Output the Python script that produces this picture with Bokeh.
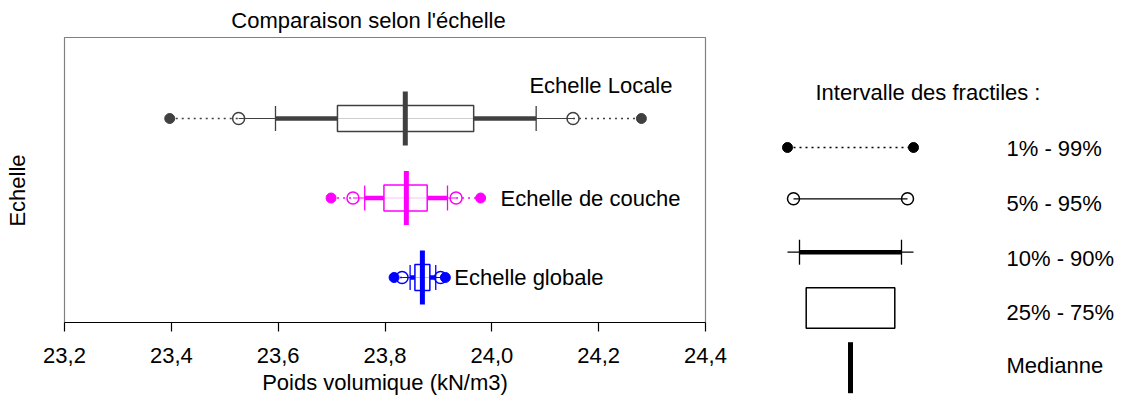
import math
from bokeh.plotting import figure
from bokeh.models import Range1d, FixedTicker, CustomJSTickFormatter, LinearAxis, ColumnDataSource
from bokeh.core.properties import value
from bokeh.embed import file_html
from bokeh.resources import INLINE

# ---------------- data ----------------
cats = ["Echelle Locale", "Echelle de couche", "Echelle globale"]
p01 = [23.397, 23.699, 23.817]
p05 = [23.526, 23.740, 23.832]
p10 = [23.595, 23.762, 23.847]
p25 = [23.711, 23.798, 23.856]
p50 = [23.838, 23.840, 23.870]
p75 = [23.966, 23.879, 23.884]
p90 = [24.083, 23.917, 23.895]
p95 = [24.152, 23.933, 23.904]
p99 = [24.280, 23.979, 23.913]
x_ticks = [23.2, 23.4, 23.6, 23.8, 24.0, 24.2, 24.4]
title_text = "Comparaison selon l'échelle"
x_label = "Poids volumique (kN/m3)"
y_label = "Echelle"
legend_title = "Intervalle des fractiles :"
legend_labels = ["1% - 99%", "5% - 95%", "10% - 90%", "25% - 75%", "Medianne"]

# ---------------- layout / style ----------------
FONT = "Liberation Sans"
FS = "22px"
W, H = 1122, 405
# plot box in canvas pixels
BOX_L, BOX_R, BOX_T, BOX_B = 64, 705, 37, 322
Y_LO, Y_HI = 0.434, 4.019          # value range of the plot box (rows at 1..3)
xs = (BOX_R - BOX_L) / (x_ticks[-1] - x_ticks[0])
ys = (BOX_B - BOX_T) / (Y_HI - Y_LO)
x_range = Range1d(x_ticks[0] - BOX_L / xs, x_ticks[-1] + (W - BOX_R) / xs)
y_range = Range1d(Y_LO - (H - BOX_B) / ys, Y_HI + BOX_T / ys)

colors = ["#404040", "#FF00FF", "#0000FF"]
ypos = [len(cats) - i for i in range(len(cats))]
lab_dx = [-112, 20, 9]
lab_dy = [-33, 0, 0]

src = ColumnDataSource(dict(
    cat=cats, y=ypos, p01=p01, p05=p05, p10=p10, p25=p25, p50=p50,
    p75=p75, p90=p90, p95=p95, p99=p99, color=colors,
    mid=[(a + b) / 2 for a, b in zip(p25, p75)],
    w=[b - a for a, b in zip(p25, p75)],
    dx=lab_dx, dy=lab_dy,
))

p = figure(width=W, height=H, output_backend="svg", toolbar_location=None,
           x_range=x_range, y_range=y_range, min_border=0,
           x_axis_type=None, y_axis_type=None)
p.title.visible = False
p.outline_line_color = None
p.background_fill_color = "white"
p.border_fill_color = "white"
p.extra_x_ranges = {"px": Range1d(0, W)}
p.extra_y_ranges = {"py": Range1d(H, 0)}
PX = dict(x_range_name="px", y_range_name="py")

# plot box
p.quad(left=[x_ticks[0]], right=[x_ticks[-1]], bottom=[Y_LO], top=[Y_HI],
       fill_color=None, line_color="#808080", line_width=1.2)

# x axis
xa = LinearAxis(fixed_location=Y_LO, bounds=(x_ticks[0], x_ticks[-1]))
xa.ticker = FixedTicker(ticks=x_ticks)
xa.formatter = CustomJSTickFormatter(code="return tick.toFixed(1).replace('.', ',');")
xa.axis_label = x_label
xa.axis_label_text_font = FONT
xa.axis_label_text_font_size = FS
xa.axis_label_text_font_style = "normal"
xa.axis_label_text_color = "black"
xa.axis_label_standoff = 4
xa.major_label_text_font = FONT
xa.major_label_text_font_size = FS
xa.major_label_text_color = "black"
xa.major_label_standoff = 16
xa.axis_line_color = "black"
xa.axis_line_width = 1.2
xa.major_tick_line_color = "black"
xa.major_tick_line_width = 1.2
xa.major_tick_out = 9
xa.major_tick_in = 0
xa.minor_tick_line_color = None
p.add_layout(xa, "below")

# title and y label
p.text(x=[368], y=[20], text=[title_text], text_font=value(FONT), text_font_size=value(FS),
       text_align="center", text_baseline="middle", **PX)
p.text(x=[17], y=[190], text=[y_label], text_font=value(FONT), text_font_size=value(FS),
       text_align="center", text_baseline="middle", angle=math.pi / 2, **PX)

# ---------------- boxplots ----------------
DOT = "2 4"
p.segment(x0="p05", x1="p95", y0="y", y1="y", line_color="color", line_width=1.2, source=src)
p.segment(x0="p01", x1="p05", y0="y", y1="y", line_color="color", line_width=1.3,
          line_dash=DOT, source=src)
p.segment(x0="p95", x1="p99", y0="y", y1="y", line_color="color", line_width=1.3,
          line_dash=DOT, source=src)
p.rect(x="mid", y="y", width="w", height=26, height_units="screen",
       fill_color="white", fill_alpha=0.75, line_color="color", line_width=1.5, source=src)
p.segment(x0="p10", x1="p25", y0="y", y1="y", line_color="color", line_width=4.5, source=src)
p.segment(x0="p75", x1="p90", y0="y", y1="y", line_color="color", line_width=4.5, source=src)
for col in ("p10", "p90"):
    p.scatter(x=col, y="y", marker="dash", size=25, angle=math.pi / 2,
              line_color="color", line_width=1.3, source=src)
for col in ("p05", "p95"):
    p.scatter(x=col, y="y", marker="circle", size=12, fill_color=None,
              line_color="color", line_width=1.5, source=src)
for col in ("p01", "p99"):
    p.scatter(x=col, y="y", marker="circle", size=10, fill_color="color",
              line_color="color", source=src)
p.scatter(x="p50", y="y", marker="dash", size=54, angle=math.pi / 2,
          line_color="color", line_width=5, source=src)
p.text(x="p99", y="y", text="cat", x_offset="dx", y_offset="dy",
       text_font=value(FONT), text_font_size=value(FS), text_color="black",
       text_align="left", text_baseline="middle", source=src)

# ---------------- key (legend) ----------------
cx = 850                       # centre of the key glyphs
key_y = [147, 198.3, 251.7, 307.5, 367.2]
lab_x = 1006
lab_y = [148, 202.7, 257.7, 311.7, 365]

p.text(x=[815], y=[92], text=[legend_title], text_font=value(FONT),
       text_font_size=value(FS), text_baseline="middle", text_align="left", **PX)
p.text(x=[lab_x] * len(legend_labels), y=lab_y, text=legend_labels,
       text_font=value(FONT), text_font_size=value(FS),
       text_baseline="middle", text_align="left", **PX)
# 1-99
p.segment(x0=[cx - 63], x1=[cx + 63], y0=[key_y[0]], y1=[key_y[0]],
          line_color="black", line_width=1.3, line_dash=DOT, **PX)
p.scatter(x=[cx - 63, cx + 63], y=[key_y[0]] * 2, marker="circle", size=10,
          fill_color="black", line_color="black", **PX)
# 5-95
p.segment(x0=[cx - 57], x1=[cx + 57], y0=[key_y[1]], y1=[key_y[1]],
          line_color="black", line_width=1.2, **PX)
p.scatter(x=[cx - 57, cx + 57], y=[key_y[1]] * 2, marker="circle", size=12,
          fill_color=None, line_color="black", line_width=1.5, **PX)
# 10-90
p.segment(x0=[cx - 63], x1=[cx + 63], y0=[key_y[2]], y1=[key_y[2]],
          line_color="black", line_width=1.2, **PX)
p.segment(x0=[cx - 51], x1=[cx + 51], y0=[key_y[2]], y1=[key_y[2]],
          line_color="black", line_width=4.5, **PX)
p.scatter(x=[cx - 51, cx + 51], y=[key_y[2]] * 2, marker="dash", size=25,
          angle=math.pi / 2, line_color="black", line_width=1.3, **PX)
# 25-75
p.rect(x=[cx], y=[key_y[3]], width=88.6, height=40.4, fill_color="white",
       line_color="black", line_width=1.5, **PX)
# median
p.scatter(x=[cx], y=[key_y[4]], marker="dash", size=51, angle=math.pi / 2,
          line_color="black", line_width=5, **PX)

open("out.html", "w").write(file_html(p, INLINE))
